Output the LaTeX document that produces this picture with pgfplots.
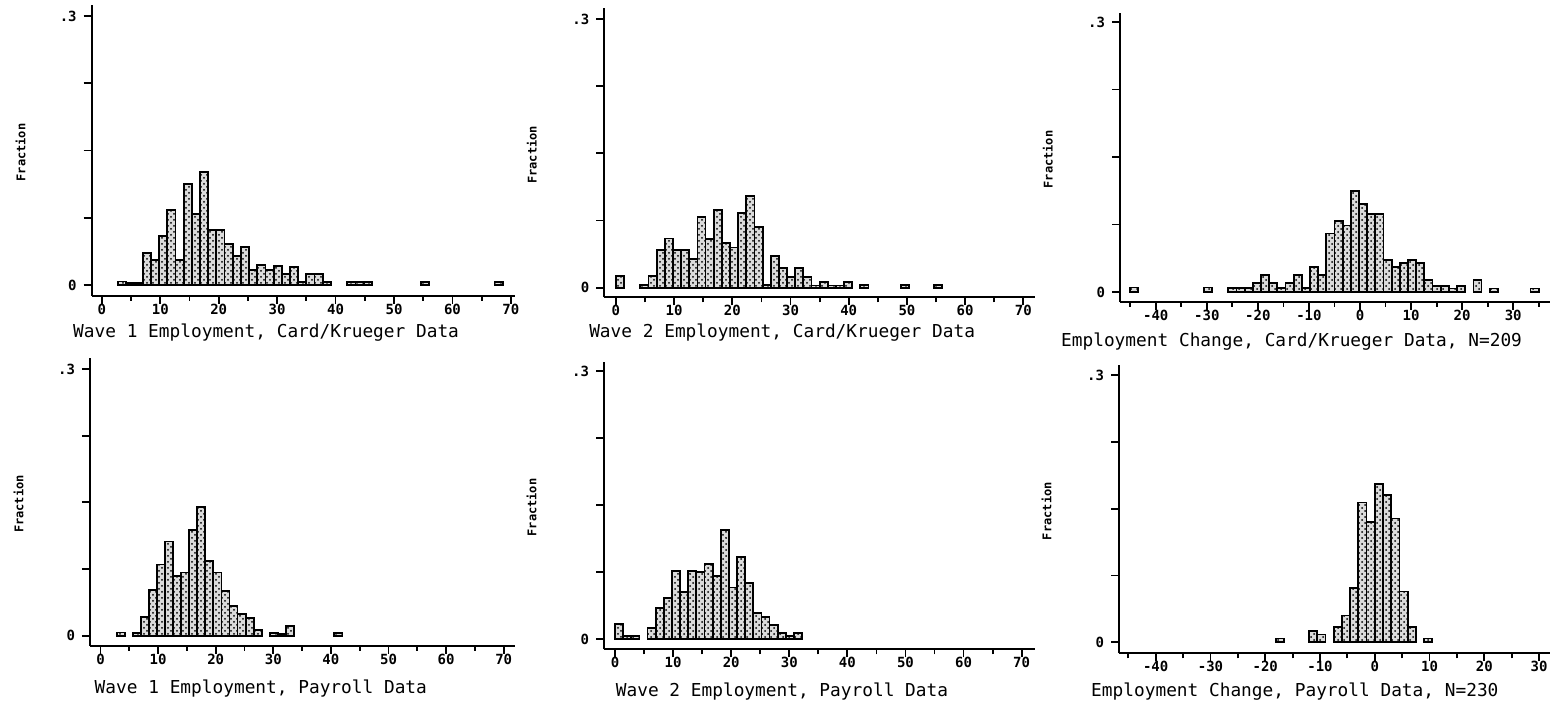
\documentclass[border=0pt]{standalone}
\usepackage{pgfplots}
\pgfplotsset{compat=1.18}
\usepackage{fontspec}
\setmonofont{DejaVu Sans Mono}
\usetikzlibrary{patterns}

\pgfplotsset{
  histo/.style={
    scale only axis,
    anchor=south west,
    axis lines=left,
    axis line style={-, line width=1pt},
    tick align=outside,
    major tick length=4pt,
    minor tick length=2.5pt,
    tick style={line width=0.9pt, black},
    ytick={0,0.075,0.15,0.225,0.3},
    yticklabels={0,,,,.3},
    tick label style={font=\ttfamily\bfseries\fontsize{7}{8}\selectfont},
    xticklabel style={yshift=3.5pt},
    ylabel={Fraction},
    ylabel style={font=\ttfamily\bfseries\fontsize{6}{7}\selectfont,
      at={(axis description cs:-0.168,0.493)}, anchor=center},
    xlabel style={font=\ttfamily\fontsize{8.9}{10}\selectfont, anchor=center},
    ybar, bar shift=0pt,
  },
  pos/.style={xtick={0,10,...,70}, xticklabels={0,10,20,30,40,50,60,70},
    minor xtick={5,15,...,65}, bar width=1.4},
  chg/.style={xtick={-40,-30,...,30}, xticklabels={-40,-30,-20,-10,0,10,20,30},
    minor xtick={-45,-35,...,35}},
  hbar/.style={draw=black, line width=0.9pt, fill=black!14,
    postaction={pattern=crosshatch dots, pattern color=black}},
}

\begin{document}
\begin{tikzpicture}
\useasboundingbox (0,0) rectangle (777pt,353pt);

% top row: Card/Krueger survey
\begin{axis}[histo, pos, at={(45.85pt,205pt)}, width=211.65pt, height=145.5pt,
  xmin=-1.73, xmax=70.7, ymin=-0.01227, ymax=0.3123,
  xlabel={Wave 1 Employment, Card/Krueger Data},
  xlabel style={at={(axis description cs:0.412,-0.127)}}]
\addplot[hbar] coordinates {
(3.5,.004) (4.9,.0025) (6.3,.0025) (7.7,.036) (9.1,.028) (10.5,.055) (11.9,.084)
(13.3,.028) (14.7,.113) (16.1,.079) (17.5,.126) (18.9,.061) (20.3,.061) (21.7,.046)
(23.1,.032) (24.5,.042) (25.9,.017) (27.3,.022) (28.7,.017) (30.1,.021) (31.5,.012)
(32.9,.020) (34.3,.003) (35.7,.012) (37.1,.012) (38.5,.003) (42.7,.003) (44.1,.003)
(45.5,.003) (55.3,.003) (67.9,.003)
};
\end{axis}

\begin{axis}[histo, pos, at={(302.15pt,204.25pt)}, width=215.35pt, height=144.6pt,
  xmin=-2.0, xmax=72.0, ymin=-0.0109, ymax=0.312,
  xlabel={Wave 2 Employment, Card/Krueger Data},
  xlabel style={at={(axis description cs:0.413,-0.123)}}]
\addplot[hbar] coordinates {
(0.7,.013) (4.9,.003) (6.3,.013) (7.7,.042) (9.1,.055) (10.5,.042) (11.9,.042)
(13.3,.032) (14.7,.079) (16.1,.054) (17.5,.087) (18.9,.050) (20.3,.045) (21.7,.083)
(23.1,.102) (24.5,.068) (25.9,.003) (27.3,.035) (28.7,.022) (30.1,.012) (31.5,.022)
(32.9,.012) (34.3,.0025) (35.7,.006) (37.1,.0025) (38.5,.0025) (39.9,.006)
(42.7,.003) (49.7,.003) (55.3,.003)
};
\end{axis}

\begin{axis}[histo, chg, bar width=1.6, at={(560pt,202pt)}, width=215pt, height=144.5pt,
  xmin=-47.0, xmax=37.2, ymin=-0.0111, ymax=0.31,
  xlabel={Employment Change, Card/Krueger Data, N=209},
  xlabel style={at={(axis description cs:0.399,-0.138)}}]
\addplot[hbar] coordinates {
(-44.2,.005) (-29.8,.005) (-25.0,.0048) (-23.4,.0048) (-21.8,.0048) (-20.2,.0096)
(-18.6,.019) (-17.0,.0096) (-15.4,.0048) (-13.8,.0096) (-12.2,.019) (-10.6,.0048)
(-9.0,.028) (-7.4,.019) (-5.8,.065) (-4.2,.079) (-2.6,.074) (-1.0,.112) (0.6,.098)
(2.2,.087) (3.8,.087) (5.4,.036) (7.0,.028) (8.6,.032) (10.2,.036) (11.8,.032)
(13.4,.013) (15.0,.007) (16.6,.007) (18.2,.004) (19.8,.007) (23.0,.013)
(26.2,.004) (34.2,.004)
};
\end{axis}

% bottom row: payroll data
\begin{axis}[histo, pos, at={(45pt,30pt)}, width=212.5pt, height=144pt,
  xmin=-1.82, xmax=71.96, ymin=-0.0116, ymax=0.3124,
  xlabel={Wave 1 Employment, Payroll Data},
  xlabel style={at={(axis description cs:0.402,-0.146)}}]
\addplot[hbar] coordinates {
(3.5,.0035) (6.3,.003) (7.7,.021) (9.1,.051) (10.5,.080) (11.9,.106) (13.3,.067)
(14.7,.071) (16.1,.119) (17.5,.145) (18.9,.084) (20.3,.071) (21.7,.050) (23.1,.033)
(24.5,.024) (25.9,.020) (27.3,.006) (30.1,.003) (31.5,.002) (32.9,.011) (41.3,.003)
};
\end{axis}

\begin{axis}[histo, pos, at={(302pt,28.35pt)}, width=215.5pt, height=143.8pt,
  xmin=-1.9, xmax=72.3, ymin=-0.0112, ymax=0.3104,
  xlabel={Wave 2 Employment, Payroll Data},
  xlabel style={at={(axis description cs:0.413,-0.148)}}]
\addplot[hbar] coordinates {
(0.7,.017) (2.1,.004) (3.5,.004) (6.3,.013) (7.7,.035) (9.1,.046) (10.5,.076)
(11.9,.053) (13.3,.076) (14.7,.075) (16.1,.084) (17.5,.071) (18.9,.122) (20.3,.058)
(21.7,.092) (23.1,.063) (24.5,.029) (25.9,.025) (27.3,.016) (28.7,.007) (30.1,.004)
(31.5,.007)
};
\end{axis}

\begin{axis}[histo, chg, bar width=1.5, at={(559.5pt,26.35pt)}, width=215.5pt, height=144.15pt,
  xmin=-46.7, xmax=32.0, ymin=-0.0123, ymax=0.3112,
  minor xtick={-45,-35,...,25},
  xlabel={Employment Change, Payroll Data, N=230},
  xlabel style={at={(axis description cs:0.408,-0.134)}}]
\addplot[hbar] coordinates {
(-17.25,.0043) (-11.25,.013) (-9.75,.0087) (-6.75,.017) (-5.25,.030) (-3.75,.061)
(-2.25,.157) (-0.75,.135) (0.75,.178) (2.25,.165) (3.75,.139) (5.25,.057)
(6.75,.017) (9.75,.0043)
};
\end{axis}
\end{tikzpicture}
\end{document}
